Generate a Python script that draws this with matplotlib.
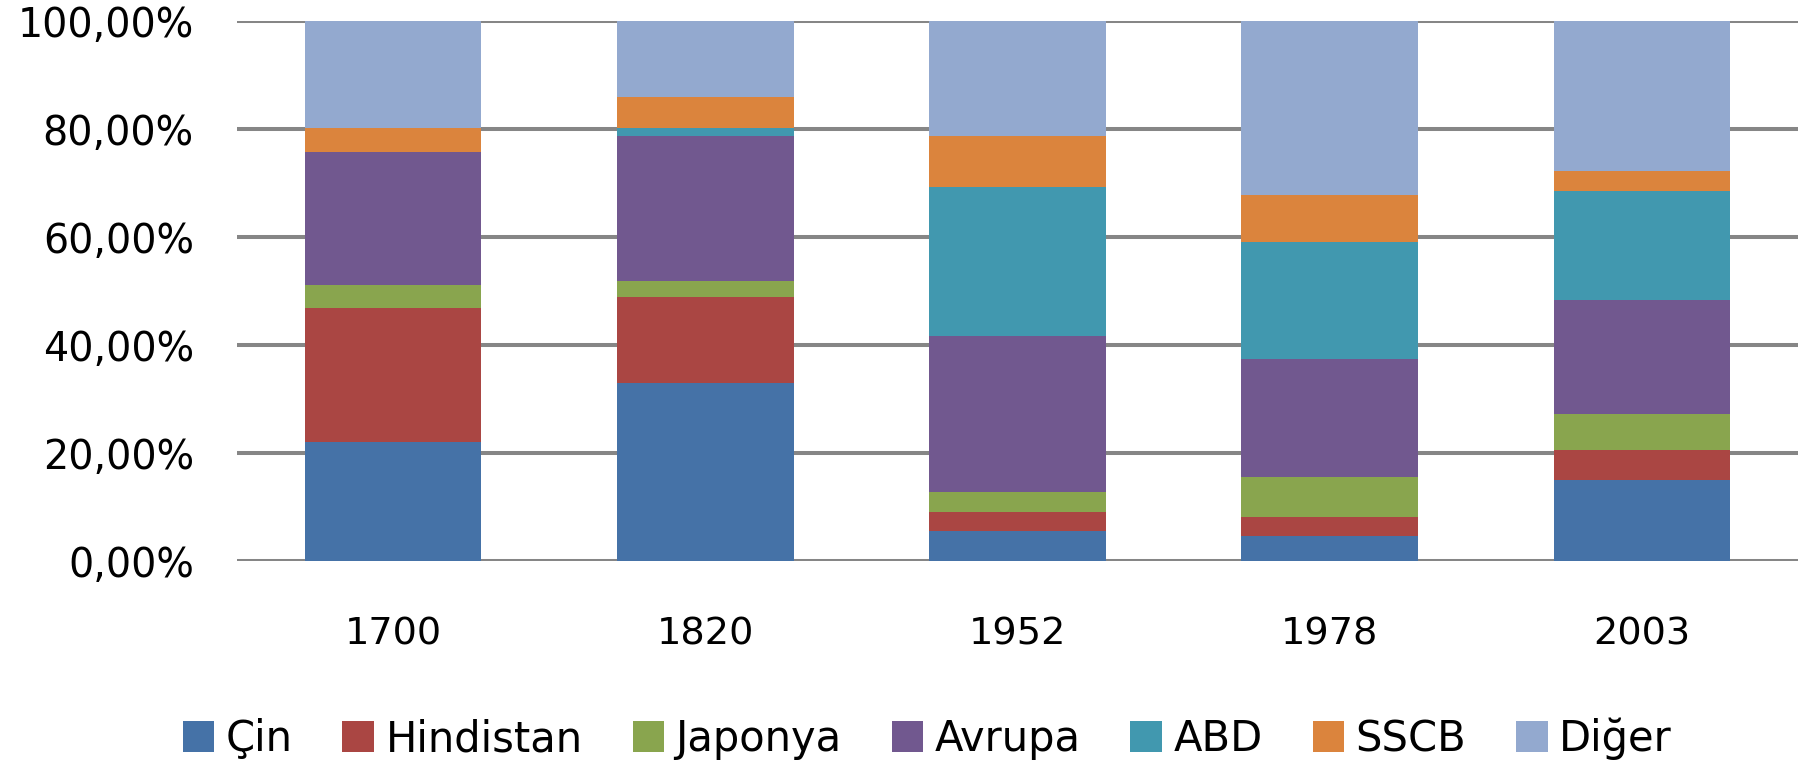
import numpy as np
import matplotlib
matplotlib.use("Agg")
import matplotlib.pyplot as plt
from matplotlib.ticker import FixedLocator, FuncFormatter

# Dünya GSYİH payları (yüzde)
yillar = ["1700", "1820", "1952", "1978", "2003"]
seriler = ["Çin", "Hindistan", "Japonya", "Avrupa", "ABD", "SSCB", "Diğer"]
cin = [22.1, 33.0, 5.6, 4.7, 15.0]
hindistan = [24.7, 15.8, 3.4, 3.5, 5.6]
japonya = [4.3, 3.1, 3.7, 7.3, 6.6]
avrupa = [24.7, 26.8, 28.9, 21.9, 21.1]
abd = [0.0, 1.4, 27.7, 21.7, 20.2]
sscb = [4.3, 5.8, 9.4, 8.7, 3.7]
diger = [19.9, 14.1, 21.3, 32.2, 27.8]

renkler = ["#4572a7", "#aa4643", "#89a54e", "#71588f", "#4198af", "#db843d", "#93a9cf"]

plt.rcParams['font.family'] = ['DejaVu Sans']

fig = plt.figure(figsize=(18.04, 7.68), dpi=100)
ax = fig.add_axes([237 / 1804, 1 - 561 / 768, 1561 / 1804, 540 / 768])

x = np.arange(len(yillar))
alt = np.zeros(len(yillar))
for ad, degerler, renk in zip(seriler, [cin, hindistan, japonya, avrupa, abd, sscb, diger], renkler):
    ax.bar(x, degerler, width=0.566, bottom=alt, color=renk, label=ad, zorder=2)
    alt = alt + np.array(degerler)

ax.set_xlim(-0.5, len(yillar) - 0.5)
ax.set_ylim(0, 100)
ax.yaxis.set_major_locator(FixedLocator([0, 20, 40, 60, 80, 100]))
ax.yaxis.set_major_formatter(FuncFormatter(lambda v, p: f"{v:.2f}".replace(".", ",") + "%"))
ax.set_xticks(x)
ax.set_xticklabels(yillar)

ax.set_axisbelow(True)
ax.grid(axis='y', color='#868686', linewidth=2.9, zorder=0)
ax.grid(axis='x', visible=False)
for s in ax.spines.values():
    s.set_visible(False)
ax.tick_params(axis='both', length=0, colors='black')
ax.tick_params(axis='y', pad=31, labelsize=28.5)
ax.tick_params(axis='x', pad=40, labelsize=27.5)

fig.legend(loc='center', bbox_to_anchor=(0.514, 1 - 739 / 768), ncol=7, frameon=False,
           fontsize=30, handlelength=0.75, handleheight=0.75, handletextpad=0.28,
           columnspacing=1.2, borderaxespad=0)

fig.savefig("out.png", dpi=100, facecolor='white')
